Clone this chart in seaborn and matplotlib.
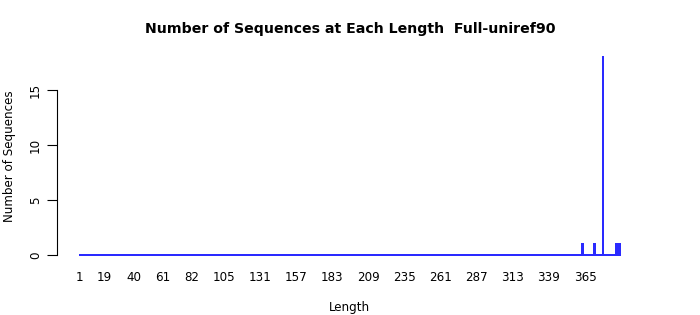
import numpy as np
import pandas as pd
import matplotlib
matplotlib.use("Agg")
import matplotlib.pyplot as plt
import seaborn as sns

# ---- data ----
lengths = list(range(1, 391))                 # every sequence length shown on the axis
peak_lengths = [363, 372, 378, 388, 390]      # lengths with sequences
peak_counts = [1, 1, 18, 1, 1]
tick_labels = [1, 19, 40, 61, 82, 105, 131, 157, 183, 209, 235, 261, 287, 313, 339, 365]
y_ticks = [0, 5, 10, 15]
title = "Number of Sequences at Each Length  Full-uniref90"

count_map = dict(zip(peak_lengths, peak_counts))
counts = [count_map.get(L, 0) for L in lengths]
df = pd.DataFrame({"Length": [str(L) for L in lengths], "Count": counts})

sns.set_theme(style="white")
plt.rcParams["font.family"] = ["DejaVu Sans"]
plt.rcParams["text.color"] = "black"

fig = plt.figure(figsize=(7, 3.15), dpi=100)
ax = fig.add_axes([0.0817, 0.1654, 0.8357, 0.6787])

sns.barplot(data=df, x="Length", y="Count", order=[str(L) for L in lengths],
            color="#9933cc", edgecolor="#2a2aff", linewidth=0.5,
            width=1 / 1.2, saturation=1, ax=ax)
for p in ax.patches:
    p.set_antialiased(False)
    p.set_snap(False)
    p.set_joinstyle("round")

ax.set_xlim(-16.2, 405.2)
ax.set_ylim(-0.72, 18.72)

ax.set_xticks([lengths.index(t) for t in tick_labels])
ax.set_xticklabels([str(t) for t in tick_labels], fontsize=8.6, color="black")
ax.tick_params(axis="x", length=0, pad=5.8)

ax.set_yticks(y_ticks)
ax.set_yticklabels([str(t) for t in y_ticks], fontsize=8.6, rotation=90,
                   va="center", color="black")
ax.tick_params(axis="y", length=7, width=0.8, color="black", pad=4, left=True)

for s in ["top", "right", "bottom"]:
    ax.spines[s].set_visible(False)
ax.spines["left"].set_bounds(0, 15)
ax.spines["left"].set_color("black")
ax.spines["left"].set_linewidth(0.8)

ax.set_xlabel("Length", fontsize=8.6, labelpad=12, color="black")
ax.set_ylabel("Number of Sequences", fontsize=8.6, labelpad=9.5, color="black")
ax.grid(False)

fig.suptitle(title, fontsize=10.2, fontweight="bold", y=0.93, color="black")

fig.savefig("out.png", dpi=100)
